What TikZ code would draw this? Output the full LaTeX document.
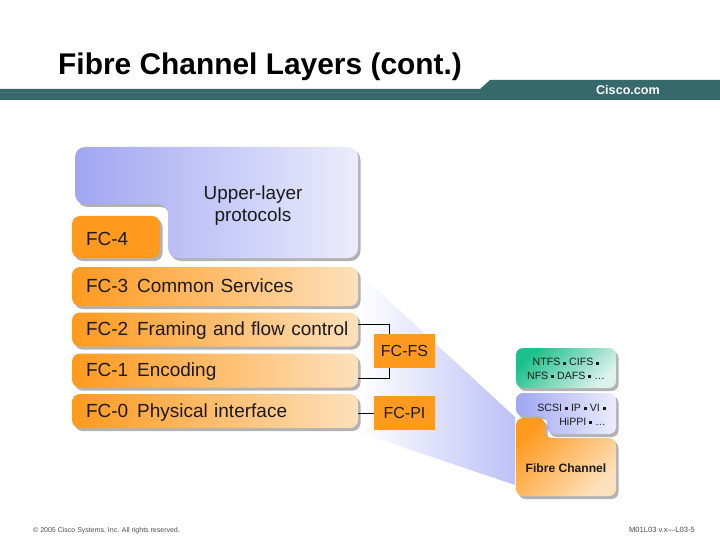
\documentclass[tikz,border=0pt]{standalone}
\usepackage{fontspec}
\setmainfont{Liberation Sans}
\usepackage{xcolor}
\usetikzlibrary{shadows}
\definecolor{Ink}{HTML}{1A1A1A}
\definecolor{Bar}{HTML}{35696B}
\definecolor{Orange}{HTML}{FF9A1E}
\definecolor{OrangeSoft}{HTML}{FDE0BC}
\definecolor{Lilac}{HTML}{A0A6F2}
\definecolor{LilacSoft}{HTML}{ECEDFB}
\definecolor{Green}{HTML}{1CC08A}
\definecolor{GreenSoft}{HTML}{DDF2EC}
\tikzset{
  softshadow/.style={drop shadow={shadow xshift=2.5pt,shadow yshift=-3pt,fill=black,opacity=0.3}},
  layer/.style={rounded corners=8pt,softshadow,left color=Orange,right color=OrangeSoft,minimum width=286pt,text width=272pt,inner xsep=7pt,inner ysep=0pt,align=left,text=Ink,text height=15pt,text depth=3pt,execute at begin node={\hspace*{7pt}},font=\fontsize{19}{22}\selectfont},
  blockorange/.style={fill=Orange,minimum width=61pt,minimum height=34pt,inner sep=0pt,text=Ink,font=\fontsize{16}{19}\selectfont},
  cable/.style={draw=black,line width=0.8pt},
  note/.style={font=\fontsize{10.6}{13.4}\selectfont,align=center,text=Ink,inner sep=0pt},
  foot/.style={font=\fontsize{7}{8}\selectfont,text=black!70,inner sep=0pt}
}
\newcommand{\dotsep}{~\raisebox{0.12em}{\rule{0.28em}{0.28em}}~}
\begin{document}
\begin{tikzpicture}[x=1pt,y=-1pt]
  \useasboundingbox (0,0) rectangle (720,540);
  % header
  \fill[Bar] (0,89) -- (480,89) -- (490,80) -- (720,80) -- (720,100) -- (0,100) -- cycle;
  \draw[white!8!Bar,line width=0.6pt] (0,92) -- (480,92);
  \node[anchor=base west,inner sep=0pt,text=black,font=\bfseries\fontsize{29.9}{34}\selectfont] (title) at (58,75) {Fibre Channel Layers (cont.)};
  \node[anchor=base,inner sep=0pt,text=white,font=\bfseries\fontsize{12.6}{15}\selectfont] (cisco) at (628,94.5) {Cisco.com};
  % fan
  \shade[left color=white,middle color=LilacSoft,right color=Lilac!70!white] (358,272) -- (515,417) -- (515,485) -- (358,432) -- cycle;
  % upper layer
  \path[rounded corners=10pt,softshadow,left color=Lilac,right color=LilacSoft] (75,147) -- (358,147) -- (358,258) -- (168,258) -- (168,204) -- (75,204) -- cycle;
  \node[font=\fontsize{18.9}{22}\selectfont,align=center,text=Ink] (upper) at (253,206) {Upper-layer\\protocols};
  \node[layer,minimum width=88pt,minimum height=42pt,text width=74pt,right color=Orange,text height=17pt,text depth=1pt] (fcfour) at (116,237) {FC-4};
  \node[layer,minimum height=39pt] (fcthree) at (215,286.5) {FC-3\hspace{0.47em}Common Services};
  \node[layer,minimum height=34pt] (fctwo) at (215,329.5) {FC-2\hspace{0.47em}Framing and flow control};
  \node[layer,minimum height=34pt] (fcone) at (215,370.5) {FC-1\hspace{0.47em}Encoding};
  \node[layer,minimum height=34pt] (fczero) at (215,411) {FC-0\hspace{0.47em}Physical interface};
  % blocks
  \node[blockorange] (fcfs) at (404.5,351) {FC-FS};
  \node[blockorange] (fcpi) at (404.5,413) {FC-PI};
  \coordinate (fstop) at (389,334);
  \coordinate (fsbot) at (389,368);
  \coordinate (twoend) at (358,324);
  \coordinate (oneend) at (358,378);
  \draw[cable] (twoend) -| (fstop);
  \draw[cable] (oneend) -| (fsbot);
  \draw[cable] (fczero.east |- fcpi.west) -- (fcpi.west);
  % right stack
  \node[rounded corners=7pt,softshadow,minimum width=100pt,minimum height=40pt,inner sep=0pt,left color=Green,right color=GreenSoft,shading angle=45] (greenbox) at (566,368) {};
  \node[note] (ntfs) at (566,369) {NTFS\dotsep CIFS\dotsep\\NFS\dotsep DAFS\dotsep\dots};
  \path[rounded corners=7pt,softshadow,left color=Lilac,right color=LilacSoft] (516,393) -- (616,393) -- (616,434) -- (547,434) -- (547,416) -- (516,416) -- cycle;
  \node[note,align=right,anchor=north east] (scsi) at (606,404) {SCSI\dotsep IP\dotsep VI\dotsep\\HiPPI\dotsep\dots};
  \path[rounded corners=7pt,softshadow,left color=Orange,right color=OrangeSoft,shading angle=45] (516,418) -- (545,418) -- (545,438) -- (616,438) -- (616,496) -- (516,496) -- cycle;
  \node[inner sep=0pt,text=Ink,font=\bfseries\fontsize{12.1}{15}\selectfont] (fibre) at (566,468) {Fibre Channel};
  % footer
  \node[foot,anchor=base west] (copy) at (33,532) {© 2005 Cisco Systems, Inc. All rights reserved.};
  \node[foot,anchor=base east,font=\fontsize{7.6}{9}\selectfont] (code) at (695,532) {M01L03 v.x—L03-5};
\end{tikzpicture}
\end{document}
